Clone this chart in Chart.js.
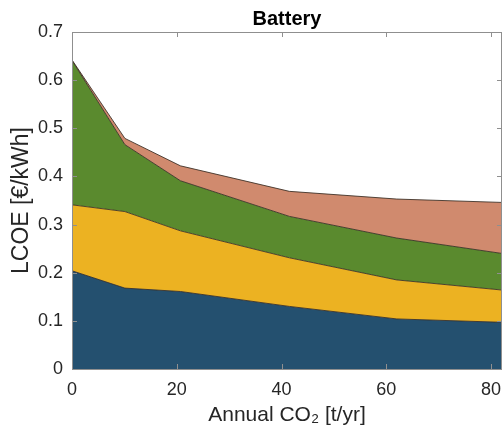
<!DOCTYPE html>
<html>
<head>
<meta charset="utf-8">
<script src="https://cdn.jsdelivr.net/npm/chart.js@4/dist/chart.umd.min.js"></script>
<style>
  html, body { margin: 0; padding: 0; background: #ffffff; }
  #wrap { width: 503px; height: 431px; position: relative; }
</style>
</head>
<body>
<div id="wrap"><canvas id="c" width="503" height="431"></canvas></div>
<script>
// ---- data ----
const co2Values = [0, 10.1, 20.7, 41.5, 62, 82.1];        // Annual CO2 [t/yr]
const seriesBlue   = [0.204, 0.168, 0.161, 0.130, 0.104, 0.097];
const seriesYellow = [0.137, 0.159, 0.126, 0.101, 0.081, 0.067];
const seriesGreen  = [0.300, 0.139, 0.104, 0.086, 0.087, 0.076];
const seriesSalmon = [0.001, 0.013, 0.031, 0.052, 0.081, 0.106];
const xTickValues = [0, 20, 40, 60, 80];
const yTickValues = [0, 0.1, 0.2, 0.3, 0.4, 0.5, 0.6, 0.7];
const xMax = 82.1;
const yMax = 0.7;

const FONT = "'Liberation Sans', Arial, Helvetica, sans-serif";
const edge = 'rgba(55,45,35,0.85)';
const axisColor = '#8f8f8f';

function pts(vals) { return co2Values.map((x, i) => ({ x: x, y: vals[i] })); }

const boxPlugin = {
  id: 'matlabBox',
  afterDatasetsDraw(chart) {
    const ctx = chart.ctx;
    const a = chart.chartArea;
    const xs = chart.scales.x, ys = chart.scales.y;
    ctx.save();
    ctx.strokeStyle = axisColor;
    ctx.lineWidth = 1;
    ctx.beginPath();
    ctx.rect(Math.round(a.left) + 0.5, Math.round(a.top) + 0.5,
             Math.round(a.right - a.left) - 1, Math.round(a.bottom - a.top));
    ctx.stroke();
    const L = 5;
    ctx.beginPath();
    xs.ticks.forEach((t, i) => {
      const px = Math.round(xs.getPixelForTick(i)) + 0.5;
      ctx.moveTo(px, a.bottom); ctx.lineTo(px, a.bottom - L);
      ctx.moveTo(px, a.top); ctx.lineTo(px, a.top + L);
    });
    ys.ticks.forEach((t, i) => {
      const py = Math.round(ys.getPixelForTick(i)) + 0.5;
      ctx.moveTo(a.left, py); ctx.lineTo(a.left + L, py);
      ctx.moveTo(a.right, py); ctx.lineTo(a.right - L, py);
    });
    ctx.stroke();
    ctx.restore();
  }
};

new Chart(document.getElementById('c'), {
  type: 'line',
  data: {
    datasets: [
      { label: 'A', data: pts(seriesBlue),   backgroundColor: '#24506f', borderColor: edge, borderWidth: 1, fill: 'origin' },
      { label: 'B', data: pts(seriesYellow), backgroundColor: '#ecb222', borderColor: edge, borderWidth: 1, fill: '-1' },
      { label: 'C', data: pts(seriesGreen),  backgroundColor: '#5a8a2e', borderColor: edge, borderWidth: 1, fill: '-1' },
      { label: 'D', data: pts(seriesSalmon), backgroundColor: '#d08a6e', borderColor: edge, borderWidth: 1, fill: '-1' }
    ]
  },
  options: {
    responsive: false,
    animation: false,
    events: [],
    layout: { padding: { left: 0, right: 1, top: 0, bottom: 0 } },
    elements: { point: { radius: 0 }, line: { tension: 0 } },
    plugins: {
      legend: { display: false },
      tooltip: { enabled: false },
      title: {
        display: true,
        text: 'Battery',
        fullSize: false,
        color: '#000000',
        font: { family: FONT, size: 20, weight: 'bold', lineHeight: 1.2 },
        padding: { top: 7, bottom: 1 }
      }
    },
    scales: {
      x: {
        type: 'linear',
        min: 0,
        max: xMax,
        afterBuildTicks(scale) { scale.ticks = xTickValues.map(v => ({ value: v })); },
        afterFit(scale) { scale.height = 62; scale.paddingLeft = 0; scale.paddingRight = 0; },
        grid: { display: false, drawTicks: false },
        border: { display: false },
        ticks: {
          color: '#262626',
          padding: 10,
          maxRotation: 0,
          font: { family: FONT, size: 18 },
          callback: v => String(v)
        },
        title: {
          display: true,
          text: 'Annual CO₂ [t/yr]',
          color: '#262626',
          font: { family: FONT, size: 21, lineHeight: 1.2 },
          padding: { top: 0, bottom: 3 }
        }
      },
      y: {
        type: 'linear',
        stacked: true,
        min: 0,
        max: yMax,
        afterBuildTicks(scale) { scale.ticks = yTickValues.map(v => ({ value: v })); },
        afterFit(scale) { scale.width = 72; scale.paddingTop = 0; scale.paddingBottom = 0; },
        grid: { display: false, drawTicks: false },
        border: { display: false },
        ticks: {
          color: '#262626',
          padding: 9,
          font: { family: FONT, size: 18 },
          callback: v => String(Number(v.toFixed(1)))
        },
        title: {
          display: true,
          text: 'LCOE [€/kWh]',
          color: '#262626',
          font: { family: FONT, size: 23, lineHeight: 1.2 },
          padding: { top: 8, bottom: 0 }
        }
      }
    }
  },
  plugins: [boxPlugin]
});
</script>
</body>
</html>
